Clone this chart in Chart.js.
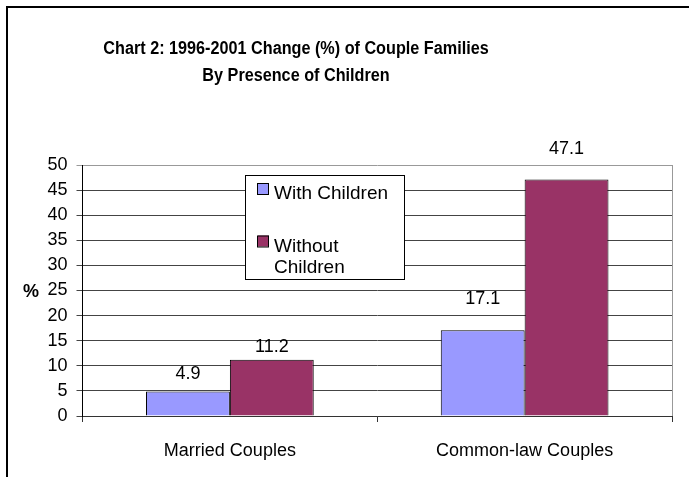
<!DOCTYPE html>
<html>
<head>
<meta charset="utf-8">
<script src="https://cdn.jsdelivr.net/npm/chart.js@4"></script>
<style>
  html, body { margin: 0; padding: 0; background: #fff; }
  #wrap { width: 689px; height: 477px; position: relative; }
</style>
</head>
<body>
<div id="wrap"><canvas id="chart" width="689" height="477"></canvas></div>
<script>
// chart data
const categories = ['Married Couples', 'Common-law Couples'];
const withChildren = [4.9, 17.1];
const withoutChildren = [11.2, 47.1];
const seriesNames = ['With Children', 'Without Children'];
const titleLines = ['Chart 2: 1996-2001 Change (%) of Couple Families', 'By Presence of Children'];
const yTicks = [0, 5, 10, 15, 20, 25, 30, 35, 40, 45, 50];

// how far above each bar its value label sits (px), per dataset
const labelLift = [[12, 26], [8, 26]];

const FONT = '"Liberation Sans", Arial, sans-serif';

// frame, title, "%" label, right edge of plot
const decorPlugin = {
    id: 'decor',
    afterDraw(chart) {
        const ctx = chart.ctx;
        const area = chart.chartArea;
        ctx.save();
        // outer frame (only top and left visible)
        ctx.strokeStyle = '#000';
        ctx.lineWidth = 2;
        ctx.beginPath();
        ctx.moveTo(7, 477);
        ctx.lineTo(7, 7);
        ctx.lineTo(689, 7);
        ctx.stroke();

        // right plot border
        ctx.strokeStyle = '#999';
        ctx.lineWidth = 1;
        ctx.beginPath();
        ctx.moveTo(area.right + 0.5, area.top);
        ctx.lineTo(area.right + 0.5, area.bottom);
        ctx.stroke();

        // title, slightly condensed like the original export
        ctx.fillStyle = '#000';
        ctx.font = 'bold 18px ' + FONT;
        ctx.textAlign = 'center';
        ctx.textBaseline = 'alphabetic';
        ctx.save();
        ctx.translate(296, 0);
        ctx.scale(0.9, 1);
        ctx.fillText(titleLines[0], 0, 54);
        ctx.fillText(titleLines[1], 0, 81);
        ctx.restore();

        // y axis title
        ctx.font = 'bold 18px ' + FONT;
        ctx.textAlign = 'left';
        ctx.textBaseline = 'middle';
        ctx.fillText('%', 23, chart.scales.y.getPixelForValue(25) + 2);
        ctx.restore();
    }
};

// value labels above bars
const valueLabels = {
    id: 'valueLabels',
    afterDatasetsDraw(chart) {
        const ctx = chart.ctx;
        ctx.save();
        ctx.font = '18px ' + FONT;
        ctx.fillStyle = '#000';
        ctx.textAlign = 'center';
        ctx.textBaseline = 'alphabetic';
        chart.data.datasets.forEach((ds, di) => {
            chart.getDatasetMeta(di).data.forEach((bar, i) => {
                ctx.fillText(ds.data[i].toFixed(1), bar.x, bar.y - labelLift[di][i]);
            });
        });
        ctx.restore();
    }
};

// boxed legend sitting inside the plot
const boxLegend = {
    id: 'boxLegend',
    afterDraw(chart) {
        const ctx = chart.ctx;
        const x = 245.5, y = 175.5, w = 159, h = 104;
        ctx.save();
        ctx.fillStyle = '#fff';
        ctx.fillRect(x, y, w, h);
        ctx.strokeStyle = '#000';
        ctx.lineWidth = 1;
        ctx.strokeRect(x, y, w, h);

        ctx.font = '19px ' + FONT;
        ctx.textAlign = 'left';
        ctx.textBaseline = 'alphabetic';
        const rows = [183, 235.5];
        chart.data.datasets.forEach((ds, di) => {
            const sy = rows[di];
            ctx.fillStyle = ds.backgroundColor;
            ctx.fillRect(258, sy, 11, 11);
            ctx.strokeStyle = '#000';
            ctx.strokeRect(257.5, sy + 0.5, 11, 11);
            ctx.fillStyle = '#000';
            // wrap to the box width
            const words = ds.label.split(' ');
            const lines = [];
            let cur = '';
            words.forEach(wd => {
                const t = cur ? cur + ' ' + wd : wd;
                if (ctx.measureText(t).width > 124 && cur) { lines.push(cur); cur = wd; }
                else cur = t;
            });
            lines.push(cur);
            lines.forEach((ln, li) => ctx.fillText(ln, 274, sy + 16 + li * 21.5));
        });
        ctx.restore();
    }
};

new Chart(document.getElementById('chart'), {
    type: 'bar',
    data: {
        labels: categories,
        datasets: [
            { label: seriesNames[0], data: withChildren, backgroundColor: '#9999FF', borderColor: '#000', borderWidth: 1 },
            { label: seriesNames[1], data: withoutChildren, backgroundColor: '#993366', borderColor: '#000', borderWidth: 1 }
        ]
    },
    options: {
        responsive: false,
        animation: false,
        events: [],
        layout: { padding: { left: 0, top: 165, right: 17, bottom: 0 } },
        datasets: { bar: { categoryPercentage: 0.569, barPercentage: 1 } },
        plugins: { legend: { display: false }, title: { display: false }, tooltip: { enabled: false } },
        scales: {
            x: {
                afterFit: s => { s.height = 61; },
                grid: { drawOnChartArea: false, drawTicks: true, tickLength: 6, color: '#333', offset: true },
                border: { display: true, color: '#333' },
                ticks: { color: '#000', font: { family: FONT, size: 18 }, padding: 18 }
            },
            y: {
                min: 0,
                max: 50,
                afterFit: s => { s.width = 82.5; },
                afterBuildTicks: s => { s.ticks = yTicks.map(v => ({ value: v })); },
                grid: { color: ctx => ctx.tick && ctx.tick.value === 50 ? '#999' : '#444', tickLength: 6, drawTicks: true },
                border: { display: true, color: '#000' },
                ticks: { color: '#000', font: { family: FONT, size: 18 }, padding: 9 }
            }
        }
    },
    plugins: [decorPlugin, valueLabels, boxLegend]
});
</script>
</body>
</html>
